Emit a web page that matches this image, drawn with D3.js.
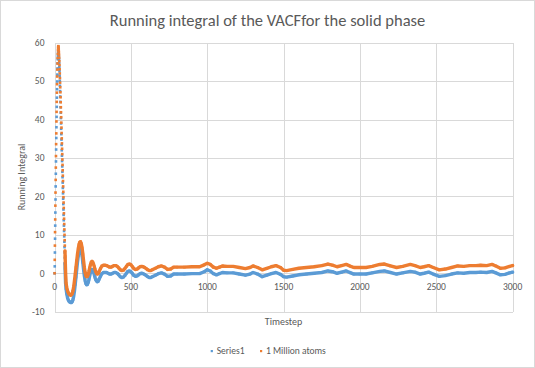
<!DOCTYPE html>
<html>
<head>
<meta charset="utf-8">
<script src="https://cdn.jsdelivr.net/npm/d3@7/dist/d3.min.js"></script>
<style>
  body { margin: 0; background: #fff; }
  text { font-family: Carlito, Calibri, Lato, "Open Sans", sans-serif; fill: #595959; }
  .grid line { stroke: #d9d9d9; shape-rendering: crispEdges; }
  .grid .domain { display: none; }
</style>
</head>
<body>
<svg id="chart" width="535" height="368"></svg>
<script>
// ---- data ----
var seriesNames = ['Series1', '1 Million atoms'];
var seriesColors = ['#5b9bd5', '#ed7d31'];
var xTicks = [0, 500, 1000, 1500, 2000, 2500, 3000];
var yTicks = [-10, 0, 10, 20, 30, 40, 50, 60];

// first timesteps, one value per step (t = 0 .. 72)
var blueEarly = [0, 1.8, 5.4, 9.0, 12.4, 15.8, 19.2, 22.6, 25.9, 29.1, 32.2, 35.2, 38.0, 40.7, 43.3,
  45.7, 47.9, 49.9, 51.7, 53.3, 54.6, 55.7, 56.5, 57.1, 57.4, 57.5,
  57.3, 56.9, 56.3, 55.6, 54.7, 53.7, 52.6, 51.4, 50.1, 48.8, 47.4, 46.0, 44.6, 43.2, 41.8, 40.4,
  39.0, 37.6, 36.2, 34.8, 33.4, 32.0, 30.6, 29.2, 27.8, 26.4, 25.0, 23.6, 22.2, 20.8, 19.4, 18.0,
  16.6, 15.2, 13.8, 12.4, 11.0, 9.6, 8.2, 6.8, 5.4, 4.0, 2.6, 1.2, -0.2, -1.5, -2.7];
var orangeEarly = [0, 3.5, 7.2, 10.7, 14.0, 17.6, 21.0, 24.3, 27.5, 30.5, 33.6, 36.4, 39.5, 42.0,
  44.6, 47.0, 49.2, 51.2, 53.0, 54.6, 56.0, 57.1, 58.0, 58.7, 59.1,
  59.0, 58.7, 58.2, 57.6, 56.9, 56.1, 55.2, 54.2, 53.1, 52.0, 50.8, 49.6, 48.4, 47.1, 45.8, 44.5,
  43.2, 41.9, 40.6, 39.2, 37.9, 36.5, 35.1, 33.8, 32.4, 31.0, 29.6, 28.2, 26.8, 25.4, 24.0, 22.6,
  21.2, 19.8, 18.4, 17.0, 15.6, 14.2, 12.8, 11.4, 10.0, 8.6, 7.2, 5.8, 4.4, 3.0, 1.6, 0.2];

// later timesteps, [timestep, value]
var blueLate = [[75,-4.0],[80,-5.4],[85,-6.4],[90,-7.0],[95,-7.3],[100,-7.5],[105,-7.6],[110,-7.6],
  [115,-7.4],[120,-6.9],[125,-6.0],[130,-4.6],[135,-2.9],[140,-1.0],[145,1.0],[150,2.9],[155,4.5],
  [160,5.8],[165,6.5],[170,6.5],[175,5.9],[180,4.6],[185,2.8],[190,0.9],[195,-0.7],[200,-1.9],
  [205,-2.7],[210,-3.0],[215,-2.9],[220,-2.4],[225,-1.6],[230,-0.7],[235,0.2],[240,0.8],[245,1.0],
  [250,0.8],[255,0.3],[260,-0.4],[265,-1.1],[270,-1.7],[275,-2.0],[280,-2.2],[285,-2.1],[290,-1.7],
  [300,-0.8],[310,-0.1],[320,0.2],[330,0.2],[340,0.2],[350,0.0],[360,-0.2],[370,-0.2],[380,0.0],
  [390,0.2],[400,0.2],[410,0.0],[420,-0.4],[430,-0.9],[440,-1.1],[450,-1.0],[460,-0.6],[470,0.0],
  [480,0.5],[490,0.6],[500,0.4],[510,-0.1],[520,-0.6],[530,-0.8],[540,-0.7],[550,-0.4],[560,-0.1],
  [570,0.0],[580,-0.1],[590,-0.3],[600,-0.6],[610,-0.9],[620,-1.1],[630,-1.1],[640,-0.9],[660,-0.5],
  [680,-0.1],[700,0.1],[720,-0.2],[740,-0.8],[760,-0.7],[780,-0.2],[800,-0.2],[850,-0.2],[900,-0.1],
  [950,-0.1],[980,0.4],[1000,0.9],[1020,0.6],[1040,-0.1],[1060,-0.4],[1080,-0.1],[1100,0.2],
  [1130,0.1],[1170,0.1],[1210,-0.2],[1250,-0.5],[1280,-0.2],[1300,0.2],[1330,-0.2],[1360,-0.9],
  [1390,-0.5],[1420,-0.1],[1450,0.2],[1480,-0.3],[1500,-0.9],[1520,-1.0],[1560,-0.7],[1600,-0.4],
  [1650,-0.2],[1700,0.0],[1750,0.2],[1790,0.6],[1820,0.4],[1850,0.0],[1880,0.3],[1910,0.6],
  [1940,0.1],[1960,-0.2],[2000,-0.2],[2040,-0.2],[2080,0.1],[2130,0.5],[2160,0.6],[2200,0.2],
  [2240,-0.2],[2280,0.1],[2330,0.5],[2360,0.3],[2395,-0.2],[2420,0.0],[2450,0.3],[2480,-0.2],
  [2520,-0.8],[2560,-0.6],[2600,-0.2],[2640,0.1],[2680,0.0],[2720,0.2],[2760,0.2],[2790,0.3],
  [2830,0.2],[2865,0.5],[2890,0.1],[2920,-0.4],[2950,-0.3],[2980,0.1],[3000,0.3]];
var orangeLate = [[75,-2.6],[80,-3.8],[85,-4.6],[90,-5.1],[95,-5.4],[100,-5.6],[105,-5.7],[110,-5.6],
  [115,-5.3],[120,-4.6],[125,-3.5],[130,-2.0],[135,-0.3],[140,1.5],[145,3.3],[150,5.0],[155,6.4],
  [160,7.5],[165,8.1],[170,8.2],[175,7.7],[180,6.6],[185,5.0],[190,3.2],[195,1.5],[200,0.2],
  [205,-0.6],[210,-0.9],[215,-0.8],[220,-0.3],[225,0.5],[230,1.4],[235,2.3],[240,2.9],[245,3.1],
  [250,2.9],[255,2.4],[260,1.7],[265,1.0],[270,0.4],[275,0.0],[280,-0.2],[285,-0.1],[290,0.3],
  [300,1.2],[310,1.9],[320,2.1],[330,2.1],[340,2.0],[350,1.8],[360,1.6],[370,1.6],[380,1.8],
  [390,2.0],[400,2.0],[410,1.8],[420,1.4],[430,0.9],[440,0.7],[450,0.8],[460,1.2],[470,1.8],
  [480,2.3],[490,2.4],[500,2.2],[510,1.7],[520,1.2],[530,1.0],[540,1.1],[550,1.4],[560,1.7],
  [570,1.8],[580,1.7],[590,1.5],[600,1.2],[610,0.9],[620,0.7],[630,0.7],[640,0.9],[660,1.3],
  [680,1.7],[700,1.9],[720,1.6],[740,1.0],[760,1.1],[780,1.6],[800,1.6],[850,1.6],[900,1.7],
  [950,1.7],[980,2.2],[1000,2.6],[1020,2.3],[1040,1.6],[1060,1.3],[1080,1.6],[1100,1.9],
  [1130,1.8],[1170,1.8],[1210,1.5],[1250,1.2],[1280,1.5],[1300,1.9],[1330,1.5],[1360,0.9],
  [1390,1.3],[1420,1.7],[1450,2.0],[1480,1.5],[1500,0.8],[1520,0.7],[1560,1.0],[1600,1.3],
  [1650,1.5],[1700,1.7],[1750,2.0],[1790,2.4],[1820,2.1],[1850,1.7],[1880,2.0],[1910,2.3],
  [1940,1.8],[1960,1.5],[2000,1.5],[2040,1.5],[2080,1.8],[2130,2.3],[2160,2.4],[2200,1.9],
  [2240,1.5],[2280,1.8],[2330,2.3],[2360,2.0],[2395,1.5],[2420,1.7],[2450,2.0],[2480,1.5],
  [2520,0.9],[2560,1.1],[2600,1.5],[2640,1.9],[2680,1.8],[2720,2.0],[2760,2.0],[2790,2.1],
  [2830,2.0],[2865,2.3],[2890,1.9],[2920,1.3],[2950,1.4],[2980,1.8],[3000,2.0]];

// ---- layout ----
var W = 535, H = 368;
var plot = { left: 54.6, right: 512.6, top: 42.7, bottom: 311.7 };

var svg = d3.select('#chart');
svg.append('rect').attr('x', 0.5).attr('y', 0.5).attr('width', W - 1).attr('height', H - 1)
  .attr('fill', '#fff').attr('stroke', '#d9d9d9');

var x = d3.scaleLinear().domain([0, 3000]).range([plot.left, plot.right]);
var y = d3.scaleLinear().domain([-10, 60]).range([plot.bottom, plot.top]);

// gridlines
svg.append('g').attr('class', 'grid')
  .attr('transform', 'translate(' + plot.left + ',0)')
  .call(d3.axisLeft(y).tickValues(yTicks).tickSize(-(plot.right - plot.left)).tickFormat(''));
svg.append('g').attr('class', 'grid')
  .attr('transform', 'translate(0,' + plot.bottom + ')')
  .call(d3.axisBottom(x).tickValues(xTicks).tickSize(-(plot.bottom - plot.top)).tickFormat(''));

// tick labels
svg.append('g').selectAll('text').data(yTicks).enter().append('text')
  .attr('x', 44.5).attr('y', function (d) { return y(d); }).attr('dy', '0.35em')
  .attr('text-anchor', 'end').attr('font-size', 9.5).text(function (d) { return d; });
svg.append('g').selectAll('text').data(xTicks).enter().append('text')
  .attr('x', function (d) { return x(d); }).attr('y', y(0) + 16.5)
  .attr('text-anchor', 'middle').attr('font-size', 9.5).text(function (d) { return d; });

// titles
svg.append('text').attr('x', 267.5).attr('y', 26).attr('text-anchor', 'middle')
  .attr('font-size', 16.5).text('Running integral of the VACFfor the solid phase');
svg.append('text').attr('transform', 'translate(25,177) rotate(-90)').attr('text-anchor', 'middle')
  .attr('font-size', 10).text('Running Integral');
svg.append('text').attr('x', 283.5).attr('y', 325).attr('text-anchor', 'middle')
  .attr('font-size', 10).text('Timestep');

// series
var lineGen = d3.line().x(function (d) { return x(d[0]); }).y(function (d) { return y(d[1]); });
var series = [
  { early: blueEarly, late: blueLate, color: seriesColors[0] },
  { early: orangeEarly, late: orangeLate, color: seriesColors[1] }
];
series.forEach(function (s) {
  var earlyPts = s.early.map(function (v, i) { return [i, v]; });
  var g = svg.append('g');
  // dense part: the markers sit so close they form a band
  g.append('path').datum(earlyPts.slice(68).concat(s.late))
    .attr('d', lineGen).attr('fill', 'none').attr('stroke', s.color)
    .attr('stroke-width', 3.4).attr('stroke-linejoin', 'round').attr('stroke-linecap', 'round');
  g.selectAll('rect').data(earlyPts.concat(s.late)).enter().append('rect')
    .attr('x', function (d) { return x(d[0]) - 1.3; })
    .attr('y', function (d) { return y(d[1]) - 1.3; })
    .attr('width', 2.6).attr('height', 2.6).attr('fill', s.color);
});

// legend
var legend = svg.append('g').attr('transform', 'translate(0,351)');
var legendX = [211.7, 261];
seriesNames.forEach(function (name, i) {
  legend.append('rect').attr('x', legendX[i] - 1).attr('y', -1).attr('width', 2.2).attr('height', 2.2)
    .attr('fill', seriesColors[i]);
  legend.append('text').attr('x', legendX[i] + 5).attr('y', 0).attr('dy', '0.35em')
    .attr('font-size', 9.5).text(name);
});
</script>
</body>
</html>
